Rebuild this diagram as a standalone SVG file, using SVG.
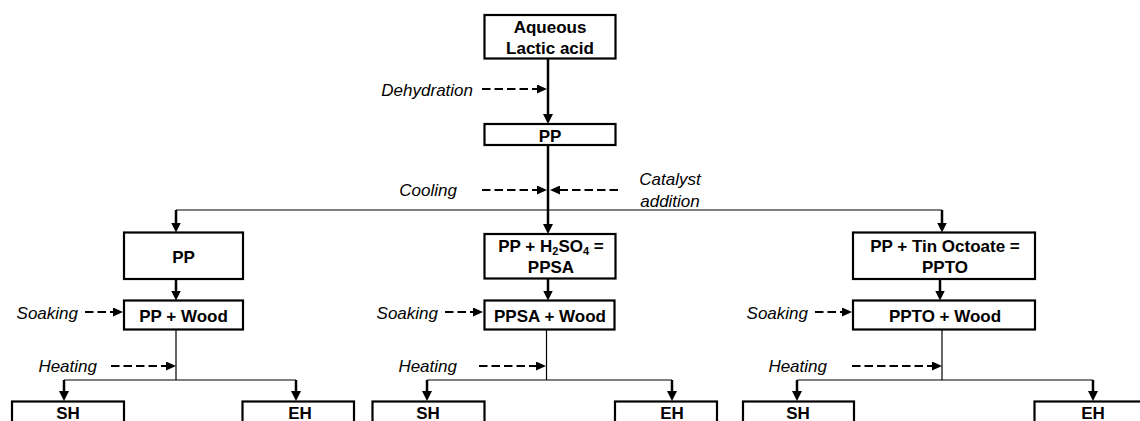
<svg xmlns="http://www.w3.org/2000/svg" width="1140" height="421" viewBox="0 0 1140 421">
<defs>
<style>
.box{fill:#fff;stroke:#000;stroke-width:2.2}
.t{font-family:"Liberation Sans",Arial,Helvetica,sans-serif;font-size:17px;font-weight:bold;text-anchor:middle;fill:#000}
.l{font-family:"Liberation Sans",Arial,Helvetica,sans-serif;font-size:17px;font-style:italic;fill:#000}
.thick{stroke:#000;stroke-width:2.5;fill:none}
.thin{stroke:#000;stroke-width:1.2;fill:none}
.dash{stroke:#000;stroke-width:2.2;stroke-dasharray:8.5 4;fill:none}
</style>
<marker id="ah" viewBox="0 0 10 10" refX="2" refY="5" markerWidth="10" markerHeight="10" markerUnits="userSpaceOnUse" orient="auto">
<path d="M0,0 L10,5 L0,10 Z" fill="#000"/>
</marker>
<marker id="ahs" viewBox="0 0 10 10" refX="2" refY="5" markerWidth="10" markerHeight="9" markerUnits="userSpaceOnUse" orient="auto" preserveAspectRatio="none">
<path d="M0,0 L10,5 L0,10 Z" fill="#000"/>
</marker>
</defs>

<g id="connectors">
<line class="thick" x1="548" y1="58.5" x2="548" y2="116" marker-end="url(#ah)"/>
<line class="thick" x1="548" y1="145" x2="548" y2="226" marker-end="url(#ah)"/>
<line class="dash" x1="482" y1="89" x2="539" y2="89" marker-end="url(#ahs)"/>
<line class="dash" x1="482" y1="190" x2="539" y2="190" marker-end="url(#ahs)"/>
<line class="dash" x1="618" y1="190" x2="558" y2="190" marker-end="url(#ahs)"/>
<line class="thin" x1="176" y1="210" x2="942" y2="210"/>
<line class="thick" x1="176" y1="210" x2="176" y2="224.5" marker-end="url(#ah)"/>
<line class="thick" x1="942" y1="210" x2="942" y2="224.5" marker-end="url(#ah)"/>
<line class="thick" x1="176" y1="279" x2="176" y2="292.5" marker-end="url(#ah)"/>
<line class="dash" x1="85" y1="312" x2="115" y2="312" marker-end="url(#ahs)"/>
<line class="thin" x1="176" y1="329.5" x2="176" y2="380"/>
<line class="dash" x1="111" y1="366" x2="168" y2="366" marker-end="url(#ahs)"/>
<line class="thin" x1="64" y1="380" x2="296" y2="380"/>
<line class="thick" x1="64" y1="380" x2="64" y2="393" marker-end="url(#ah)"/>
<line class="thick" x1="296" y1="380" x2="296" y2="393" marker-end="url(#ah)"/>
<line class="thick" x1="548" y1="278.5" x2="548" y2="292.5" marker-end="url(#ah)"/>
<line class="dash" x1="445" y1="312" x2="475" y2="312" marker-end="url(#ahs)"/>
<line class="thin" x1="546.5" y1="329.5" x2="546.5" y2="380"/>
<line class="dash" x1="479" y1="366" x2="538" y2="366" marker-end="url(#ahs)"/>
<line class="thin" x1="427" y1="380" x2="672" y2="380"/>
<line class="thick" x1="427" y1="380" x2="427" y2="393" marker-end="url(#ah)"/>
<line class="thick" x1="672" y1="380" x2="672" y2="393" marker-end="url(#ah)"/>
<line class="thick" x1="940" y1="279" x2="940" y2="292.5" marker-end="url(#ah)"/>
<line class="dash" x1="815" y1="312" x2="844" y2="312" marker-end="url(#ahs)"/>
<line class="thin" x1="942" y1="329.5" x2="942" y2="380"/>
<line class="dash" x1="852" y1="366" x2="934" y2="366" marker-end="url(#ahs)"/>
<line class="thin" x1="797" y1="380" x2="1093" y2="380"/>
<line class="thick" x1="797" y1="380" x2="797" y2="393" marker-end="url(#ah)"/>
<line class="thick" x1="1093" y1="380" x2="1093" y2="393" marker-end="url(#ah)"/>
</g>

<g id="labels">
<text class="l" x="473" y="96" text-anchor="end">Dehydration</text>
<text class="l" x="457" y="196" text-anchor="end">Cooling</text>
<text class="l" x="670" y="185" text-anchor="middle">Catalyst</text>
<text class="l" x="670" y="206.5" text-anchor="middle">addition</text>
<text class="l" x="78" y="319" text-anchor="end">Soaking</text>
<text class="l" x="438" y="319" text-anchor="end">Soaking</text>
<text class="l" x="808" y="319" text-anchor="end">Soaking</text>
<text class="l" x="97" y="371.5" text-anchor="end">Heating</text>
<text class="l" x="457" y="371.5" text-anchor="end">Heating</text>
<text class="l" x="827" y="371.5" text-anchor="end">Heating</text>
</g>

<g id="node-lactic">
<rect class="box" x="484.5" y="15" width="131" height="43.5"/>
<text class="t" x="550" y="32.5">Aqueous</text>
<text class="t" x="550" y="54">Lactic acid</text>
</g>
<g id="node-pp-top">
<rect class="box" x="484.5" y="124" width="131" height="21"/>
<text class="t" x="550" y="142">PP</text>
</g>

<g id="node-pp">
<rect class="box" x="124" y="232.5" width="119" height="46.5"/>
<text class="t" x="183.5" y="262.5">PP</text>
</g>
<g id="node-pp-wood">
<rect class="box" x="124" y="300.5" width="119" height="29"/>
<text class="t" x="183.5" y="321.5">PP + Wood</text>
</g>
<g id="node-sh1">
<rect class="box" x="12" y="401.5" width="112" height="30"/>
<text class="t" x="68" y="419">SH</text>
</g>
<g id="node-eh1">
<rect class="box" x="242.5" y="401.5" width="111.5" height="30"/>
<text class="t" x="300" y="419">EH</text>
</g>

<g id="node-ppsa">
<rect class="box" x="484.5" y="234" width="131" height="44.5"/>
<text class="t" x="551" y="251.5">PP + H<tspan font-size="11" dy="3">2</tspan><tspan dy="-3">SO</tspan><tspan font-size="11" dy="3">4</tspan><tspan dy="-3"> =</tspan></text>
<text class="t" x="551" y="273">PPSA</text>
</g>
<g id="node-ppsa-wood">
<rect class="box" x="484.5" y="300.5" width="130" height="29"/>
<text class="t" x="550" y="321.5">PPSA + Wood</text>
</g>
<g id="node-sh2">
<rect class="box" x="372.5" y="401.5" width="112" height="30"/>
<text class="t" x="428" y="419">SH</text>
</g>
<g id="node-eh2">
<rect class="box" x="615" y="401.5" width="102" height="30"/>
<text class="t" x="672" y="419">EH</text>
</g>

<g id="node-ppto">
<rect class="box" x="853" y="232.5" width="182" height="46.5"/>
<text class="t" x="945" y="251.5">PP + Tin Octoate =</text>
<text class="t" x="945" y="273">PPTO</text>
</g>
<g id="node-ppto-wood">
<rect class="box" x="853" y="300.5" width="182" height="29"/>
<text class="t" x="945" y="321.5">PPTO + Wood</text>
</g>
<g id="node-sh3">
<rect class="box" x="743" y="401.5" width="111" height="30"/>
<text class="t" x="798" y="419">SH</text>
</g>
<g id="node-eh3">
<rect class="box" x="1034.5" y="401.5" width="120" height="30"/>
<text class="t" x="1093" y="419">EH</text>
</g>
</svg>
